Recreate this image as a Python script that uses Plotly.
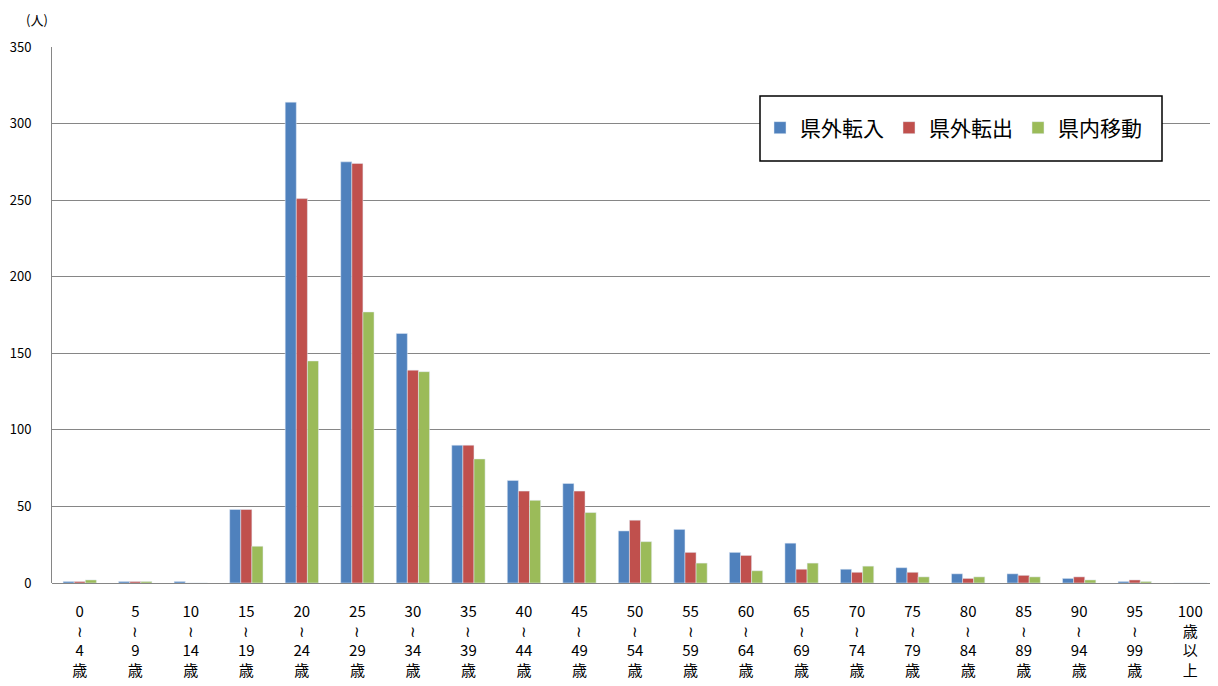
import plotly.graph_objects as go

WAVE = "≀"
age_from = ["0", "5", "10", "15", "20", "25", "30", "35", "40", "45", "50",
            "55", "60", "65", "70", "75", "80", "85", "90", "95"]
age_to = ["4", "9", "14", "19", "24", "29", "34", "39", "44", "49", "54",
          "59", "64", "69", "74", "79", "84", "89", "94", "99"]
categories = [f"{a}<br>{WAVE}<br>{b}<br>歳" for a, b in zip(age_from, age_to)] + ["100<br>歳<br>以<br>上"]
kengai_tennyu = [1, 1, 1, 48, 314, 275, 163, 90, 67, 65, 34, 35, 20, 26, 9, 10, 6, 6, 3, 1, 0]
kengai_tenshutsu = [1, 1, 0, 48, 251, 274, 139, 90, 60, 60, 41, 20, 18, 9, 7, 7, 3, 5, 4, 2, 0]
kennai_ido = [2, 1, 0, 24, 145, 177, 138, 81, 54, 46, 27, 13, 8, 13, 11, 4, 4, 4, 2, 1, 0]
y_ticks = [0, 50, 100, 150, 200, 250, 300, 350]

FONT = "Noto Sans CJK JP"
x_idx = list(range(len(categories)))

fig = go.Figure()
fig.add_trace(go.Bar(x=x_idx, y=kengai_tennyu, name="県外転入", marker_color="#4F81BD"))
fig.add_trace(go.Bar(x=x_idx, y=kengai_tenshutsu, name="県外転出", marker_color="#C0504D"))
fig.add_trace(go.Bar(x=x_idx, y=kennai_ido, name="県内移動", marker_color="#9BBB59"))

OFF = 8  # page body margin
W, H = 1218 - OFF, 686 - OFF
L, R, T, B = 52 - OFF, 0, 47 - OFF, 103
pw, ph = W - L - R, H - T - B

def px_x(x):
    return (x - OFF - L) / pw

def px_y(y):
    return (H - B - (y - OFF)) / ph

fig.update_layout(
    width=W, height=H,
    margin=dict(l=L, r=R, t=T, b=B, pad=0),
    paper_bgcolor="white", plot_bgcolor="white",
    barmode="group", bargap=0.4, bargroupgap=0,
    font=dict(family=FONT, color="#000000"),
    showlegend=True,
    legend=dict(orientation="h", x=px_x(760), xanchor="left", y=px_y(128), yanchor="middle",
                bgcolor="rgba(0,0,0,0)", borderwidth=0, font=dict(size=21, family=FONT),
                itemwidth=30, traceorder="normal"),
    xaxis=dict(tickmode="array", tickvals=x_idx, ticktext=categories, range=[-0.5, 20.5],
               showgrid=False, showline=False, ticks="", tickangle=0,
               tickfont=dict(size=15, family=FONT), ticklabelstandoff=18, zeroline=False),
    yaxis=dict(range=[0, 350], tickmode="array", tickvals=y_ticks, showgrid=True,
               gridcolor="#868686", gridwidth=1, showline=True, linecolor="#868686", linewidth=1,
               zeroline=True, zerolinecolor="#868686", zerolinewidth=1,
               ticks="", tickfont=dict(size=13, family=FONT), ticklabelstandoff=17),
    shapes=[dict(type="rect", xref="paper", yref="paper", x0=px_x(760), x1=px_x(1162),
                 y0=px_y(161), y1=px_y(96), line=dict(color="#000000", width=1.5),
                 fillcolor="white", layer="above")],
    annotations=[dict(text="(人)", xref="paper", yref="paper", x=px_x(37), y=px_y(20),
                      xanchor="center", yanchor="middle", showarrow=False,
                      font=dict(size=13, family=FONT))],
)

fig.write_html("out.html")
